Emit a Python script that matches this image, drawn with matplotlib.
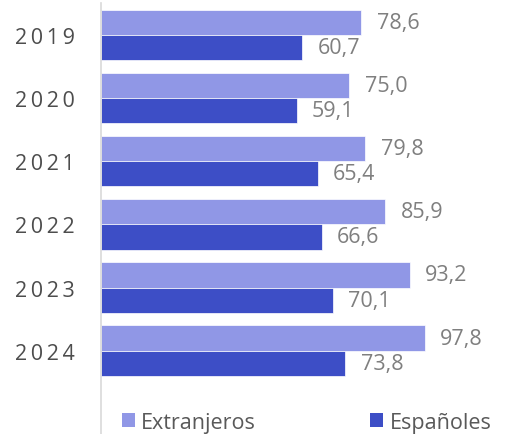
import numpy as np
import matplotlib
matplotlib.use('Agg')
import matplotlib.pyplot as plt
from matplotlib.patches import Patch

# data
years = ['2019', '2020', '2021', '2022', '2023', '2024']
extranjeros = [78.6, 75.0, 79.8, 85.9, 93.2, 97.8]
espanoles = [60.7, 59.1, 65.4, 66.6, 70.1, 73.8]

c_ext = '#9097E6'
c_esp = '#3D4EC6'
gray = '#7F7F7F'

plt.rcParams['font.family'] = ['Open Sans', 'DejaVu Sans']

fig = plt.figure(figsize=(5.05, 4.35), dpi=100)
ax = fig.add_axes([0.2, 0.0, 0.8, 0.99])

y = np.arange(len(years))
h = 0.40
b1 = ax.barh(y - h/2, extranjeros, height=h, color=c_ext, edgecolor='white', linewidth=0.5)
b2 = ax.barh(y + h/2, espanoles, height=h, color=c_esp, edgecolor='white', linewidth=0.5)

fmt = lambda v: f'{v:.1f}'.replace('.', ',')
ax.bar_label(b1, labels=[fmt(v) for v in extranjeros], padding=11, color=gray, fontsize=15.5)
ax.bar_label(b2, labels=[fmt(v) for v in espanoles], padding=11, color=gray, fontsize=15.5)

ax.set_xlim(0, 122)
ax.set_ylim(6.32, -0.5)

ax.set_yticks(y)
ax.set_yticklabels(['\u2009'.join(list(s)) for s in years], fontsize=15.5, color='#4D4D4D')
ax.tick_params(axis='y', length=0, pad=19)
ax.set_xticks([])

for s in ['top', 'right', 'bottom']:
    ax.spines[s].set_visible(False)
ax.spines['left'].set_color('#D9D9D9')
ax.spines['left'].set_linewidth(1.2)

handles = [Patch(facecolor=c_ext, label='Extranjeros'), Patch(facecolor=c_esp, label='Españoles')]
fig.legend(handles=handles, loc='lower left', bbox_to_anchor=(0.203, -0.042), ncol=2,
           frameon=False, fontsize=15.5, handlelength=0.6, handleheight=0.6,
           handletextpad=0.3, columnspacing=5.3, labelcolor='#595959')

fig.savefig('out.png', dpi=100, facecolor='white')
